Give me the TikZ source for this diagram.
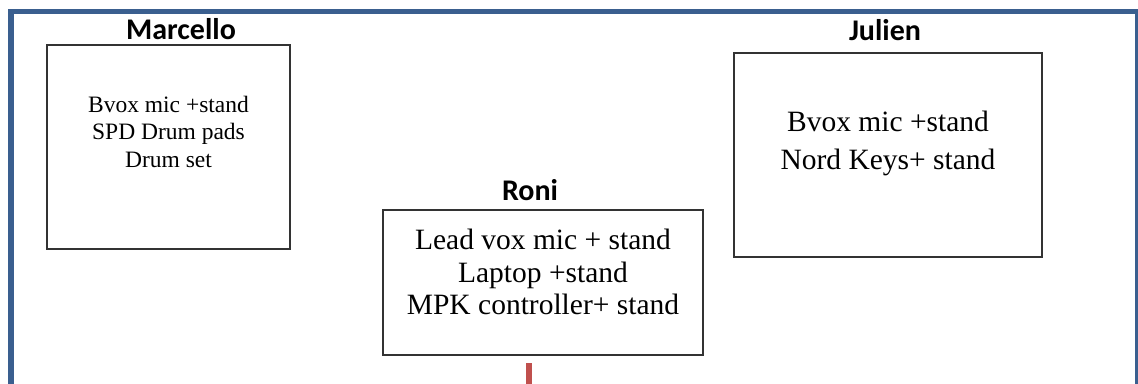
\documentclass[tikz,border=0pt]{standalone}
\usepackage{fontspec}
\setmainfont{Liberation Serif}
\newfontfamily\labfont{Carlito}
\definecolor{frameblue}{HTML}{3A5F8F}
\definecolor{linkred}{HTML}{C0504D}
\begin{document}
\begin{tikzpicture}[x=1pt,y=-1pt,
  stagebox/.style={draw=black!80,line width=1.2pt,rectangle,inner sep=0pt},
  boxtext/.style={align=center,inner sep=0pt},
  who/.style={font=\labfont\bfseries\fontsize{30}{32}\selectfont,inner sep=0pt},
  framestyle/.style={draw=frameblue,line width=5.5pt},
  feed/.style={draw=linkred,line width=6pt}]
\useasboundingbox (0,0) rectangle (1138,383);
\path[framestyle] (11,11.5) rectangle (1138,420);
% Marcello
\node[stagebox,minimum width=243pt,minimum height=204pt] (mbox) at (168.5,147) {};
\node[boxtext,font=\fontsize{23.5}{27.5}\selectfont] (mtext) at (168.5,131.5) {Bvox mic +stand\\SPD Drum pads\\Drum set};
\node[who] (mlab) at (181,29) {Marcello};
% Julien
\node[stagebox,minimum width=308pt,minimum height=204pt] (jbox) at (888,155) {};
\node[boxtext,font=\fontsize{29.5}{38.5}\selectfont] (jtext) at (888,143.5) {Bvox mic +stand\\Nord Keys+ stand};
\node[who] (jlab) at (885,30) {Julien};
% Roni
\node[stagebox,minimum width=320pt,minimum height=145pt] (rbox) at (543,282.5) {};
\node[boxtext,font=\fontsize{29.5}{32.5}\selectfont] (rtext) at (543,272) {Lead vox mic + stand\\Laptop +stand\\MPK controller+ stand};
\node[who] (rlab) at (530,190) {Roni};
% feed line
\coordinate (ftop) at (529,363);
\coordinate (fbot) at (529,400);
\draw[feed] (ftop) -- (fbot);
\end{tikzpicture}
\end{document}
